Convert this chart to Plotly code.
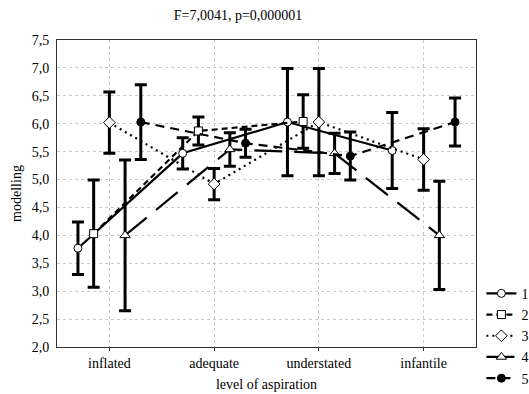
import plotly.graph_objects as go

categories = ["inflated", "adequate", "understated", "infantile"]
cat_pos = [1, 2, 3, 4]
series_names = ["1", "2", "3", "4", "5"]

s1_mean = [3.77, 5.47, 6.03, 5.52]
s1_err = [0.47, 0.28, 0.96, 0.68]
s2_mean = [4.03, 5.87, 6.04, None]
s2_err = [0.96, 0.25, 0.48, None]
s3_mean = [6.02, 4.92, 6.03, 5.36]
s3_err = [0.55, 0.28, 0.96, 0.55]
s4_mean = [4.00, 5.54, 5.47, 4.00]
s4_err = [1.35, 0.30, 0.36, 0.97]
s5_mean = [6.03, 5.65, 5.42, 6.03]
s5_err = [0.67, 0.25, 0.43, 0.43]

y_ticks = [2.0, 2.5, 3.0, 3.5, 4.0, 4.5, 5.0, 5.5, 6.0, 6.5, 7.0, 7.5]

means = [s1_mean, s2_mean, s3_mean, s4_mean, s5_mean]
errs = [s1_err, s2_err, s3_err, s4_err, s5_err]
offsets = [-0.3, -0.15, 0.0, 0.15, 0.3]
dashes = ["solid", "6px,4px", "2px,4px", "28px,12px", "9px,6px"]
symbols = ["circle", "square", "diamond", "triangle-up", "circle"]
fills = ["white", "white", "white", "white", "black"]
sizes = [8, 8, 9, 9, 8]

fig = go.Figure()
for i in range(5):
    xs = [p + offsets[i] for p in cat_pos]
    fig.add_trace(go.Scatter(
        x=xs, y=means[i], name=series_names[i], mode="lines+markers",
        connectgaps=False,
        line=dict(color="black", width=2.2, dash=dashes[i]),
        marker=dict(symbol=symbols[i], size=sizes[i], color=fills[i],
                    line=dict(color="black", width=1)),
        error_y=dict(type="data", array=errs[i], visible=True,
                     color="black", thickness=3, width=6),
    ))

font_family = "Liberation Serif, Times New Roman, serif"
fig.update_layout(
    width=529, height=394,
    margin=dict(l=57, r=53, t=40, b=47, autoexpand=False),
    paper_bgcolor="white", plot_bgcolor="white",
    font=dict(family=font_family, size=14, color="black"),
    separators=",.",
    title=dict(text="F=7,0041, p=0,000001", x=0.45, xref="container",
               xanchor="center", y=0.962, yanchor="middle",
               font=dict(family=font_family, size=14, color="black")),
    showlegend=True,
    legend=dict(x=0.91, xref="container", xanchor="left",
                y=0.295, yref="container", yanchor="top",
                bgcolor="rgba(0,0,0,0)", font=dict(size=14),
                tracegroupgap=0, itemwidth=30),
)
fig.update_xaxes(
    range=[0.5, 4.5], tickvals=cat_pos, ticktext=categories,
    tickfont=dict(family=font_family, size=14),
    showgrid=True, gridcolor="#c8c8c8", griddash="dot", gridwidth=1,
    showline=True, linecolor="#333", linewidth=1, mirror=True,
    ticks="outside", ticklen=3, tickcolor="#333", zeroline=False,
    ticklabelstandoff=0, automargin=False,
    title=dict(text="level of aspiration", standoff=9,
               font=dict(family=font_family, size=14)),
)
fig.update_yaxes(
    range=[2.0, 7.5], tickvals=y_ticks, tickformat=".1f",
    tickfont=dict(family=font_family, size=14),
    showgrid=True, gridcolor="#c8c8c8", griddash="dot", gridwidth=1,
    showline=True, linecolor="#333", linewidth=1, mirror=True,
    ticks="", zeroline=False, ticklabelstandoff=4, automargin=False,
    title=dict(text="modelling", standoff=6,
               font=dict(family=font_family, size=14)),
)

fig.write_html("out.html")
